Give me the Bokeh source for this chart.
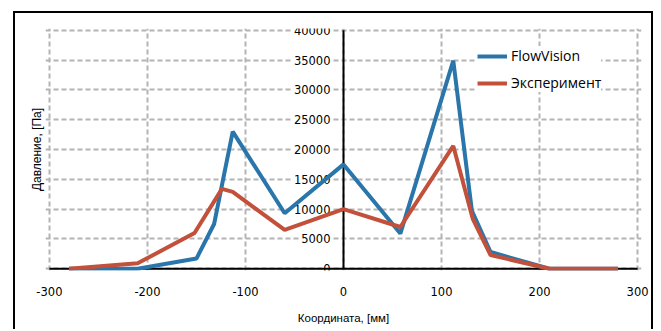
from bokeh.plotting import figure
from bokeh.models import Range1d, FixedTicker, LinearAxis, Legend, LegendItem, ColumnDataSource, Grid
from bokeh.core.properties import value
from bokeh.embed import file_html
from bokeh.resources import INLINE

# Data
x_flow = [-280, -210, -150, -132, -113, -60, 0, 58, 112, 131, 150, 210, 280]
y_flow = [0, 0, 1700, 7500, 23000, 9300, 17500, 5900, 34900, 9700, 2800, 0, 0]
x_exp = [-280, -210, -152, -124, -113, -60, 0, 58, 112, 132, 150, 210, 280]
y_exp = [0, 900, 6000, 13400, 12900, 6500, 10000, 7000, 20600, 8300, 2300, 0, 0]
x_ticks = [-300, -200, -100, 0, 100, 200, 300]
x_tick_labels = ["-300", "-200", "-100", "0", "100", "200", "300"]
y_ticks = [0, 5000, 10000, 15000, 20000, 25000, 30000, 35000, 40000]
y_tick_labels = ["0", "5000", "10000", "15000", "20000", "25000", "30000", "35000", "40000"]

BLUE = "#2A76AB"
RED = "#C2503A"
GRID = "#B4B4B4"

p = figure(width=640, height=318, output_backend="svg", toolbar_location=None,
           x_range=Range1d(-304, 304), y_range=Range1d(-300, 40300),
           x_axis_type=None, y_axis_type=None,
           min_border_left=30, min_border_right=14, min_border_top=15, min_border_bottom=61)
p.outline_line_color = None
p.background_fill_color = "white"
p.border_fill_color = "white"
p.styles = {"margin-left": "13px", "margin-top": "11px",
            "border-left": "2px solid black", "border-top": "2px solid black",
            "border-right": "2px solid black"}

# bottom axis
xa = LinearAxis(ticker=FixedTicker(ticks=x_ticks))
xa.major_label_overrides = {t: l for t, l in zip(x_ticks, x_tick_labels)}
xa.axis_line_color = None
xa.major_tick_line_color = None
xa.minor_tick_line_color = None
xa.major_tick_out = 0
xa.major_tick_in = 0
xa.major_label_standoff = 16
xa.major_label_text_font = "DejaVu Sans"
xa.major_label_text_font_size = "11.5px"
xa.major_label_text_color = "black"
xa.axis_label = "Координата, [мм]"
xa.axis_label_text_font = "Liberation Sans"
xa.axis_label_text_font_size = "11.5px"
xa.axis_label_text_font_style = "normal"
xa.axis_label_text_color = "black"
xa.axis_label_standoff = 13
p.add_layout(xa, "below")

# left axis (title only)
ya = LinearAxis(ticker=FixedTicker(ticks=[]))
ya.axis_line_color = None
ya.major_tick_line_color = None
ya.minor_tick_line_color = None
ya.major_tick_out = 0
ya.major_label_text_font_size = "0px"
ya.major_label_standoff = 0
ya.axis_label = "Давление, [Па]"
ya.axis_label_text_font = "Liberation Sans"
ya.axis_label_text_font_size = "12px"
ya.axis_label_text_font_style = "normal"
ya.axis_label_text_color = "black"
ya.axis_label_standoff = 2
p.add_layout(ya, "left")

# grids
gx = Grid(dimension=0, ticker=FixedTicker(ticks=x_ticks), grid_line_color=GRID,
          grid_line_width=2, grid_line_dash="5 3")
gy = Grid(dimension=1, ticker=FixedTicker(ticks=y_ticks), grid_line_color=GRID,
          grid_line_width=2, grid_line_dash="5 3")
p.add_layout(gx)
p.add_layout(gy)

# y tick labels at x = 0
src_lab = ColumnDataSource(dict(x=[0] * len(y_ticks), y=y_ticks, t=y_tick_labels))
p.text(x="x", y="y", text="t", source=src_lab, text_align="right", text_baseline="middle",
       x_offset=-12, text_font=value("DejaVu Sans"), text_font_size="11.5px", text_color="black",
       background_fill_color="white", padding=1)

# axis lines
p.segment(x0=[0], y0=[0], x1=[0], y1=[40000], line_color="black", line_width=2)
p.segment(x0=[-300], y0=[0], x1=[300], y1=[0], line_color="black", line_width=2)

# data
r1 = p.line(x_flow, y_flow, line_color=BLUE, line_width=4)
r2 = p.line(x_exp, y_exp, line_color=RED, line_width=4)

legend = Legend(items=[LegendItem(label="FlowVision", renderers=[r1]),
                       LegendItem(label="Эксперимент", renderers=[r2])],
                location=(432, 178))
legend.border_line_color = None
legend.background_fill_color = "white"
legend.background_fill_alpha = 1
legend.padding = 10
legend.margin = 0
legend.spacing = 8
legend.glyph_width = 30
legend.glyph_height = 18
legend.label_height = 18
legend.label_standoff = 4
legend.label_text_font = "Open Sans"
legend.label_text_font_size = "14px"
legend.label_text_color = "black"
p.add_layout(legend)

open("out.html", "w").write(file_html(p, INLINE))
